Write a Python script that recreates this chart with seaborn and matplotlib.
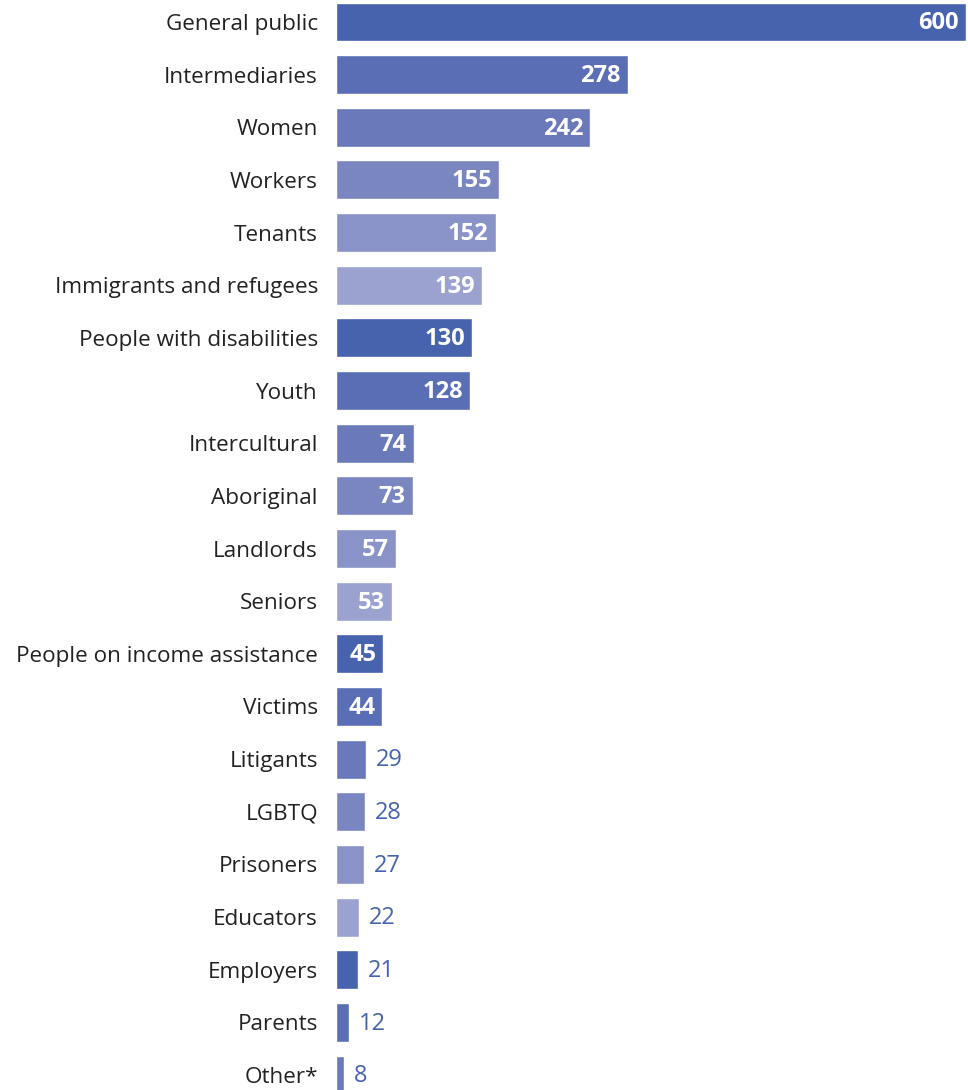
import matplotlib
matplotlib.use("Agg")
import matplotlib.pyplot as plt
import seaborn as sns
import pandas as pd

categories = [
    "General public", "Intermediaries", "Women", "Workers", "Tenants",
    "Immigrants and refugees", "People with disabilities", "Youth",
    "Intercultural", "Aboriginal", "Landlords", "Seniors",
    "People on income assistance", "Victims", "Litigants", "LGBTQ",
    "Prisoners", "Educators", "Employers", "Parents", "Other*",
]
counts = [600, 278, 242, 155, 152, 139, 130, 128, 74, 73, 57, 53,
          45, 44, 29, 28, 27, 22, 21, 12, 8]

# six blue shades, repeated down the list
shades = ["#4763AE", "#5A6EB5", "#6A79BA", "#7A86C0", "#8A93C8", "#9BA2D0"]
palette = [shades[i % len(shades)] for i in range(len(categories))]

df = pd.DataFrame({"category": categories, "count": counts})

sns.set_theme(style="white")
plt.rcParams["font.family"] = ["Open Sans", "DejaVu Sans"]

fig = plt.figure(figsize=(9.68, 10.90), dpi=100)
ax = fig.add_axes([336 / 968, 0, 632 / 968, 1])

sns.barplot(data=df, y="category", x="count", hue="category",
            palette=palette, legend=False, width=0.74, orient="h",
            saturation=1, ax=ax)

ax.set_xlim(0, 602)
ax.set_ylim(20.285, -0.418)
ax.set_xlabel("")
ax.set_ylabel("")
ax.set_xticks([])
sns.despine(ax=ax, left=True, bottom=True)
ax.tick_params(axis="y", length=0, pad=13, labelsize=16.2, labelcolor="#222222")

for i, v in enumerate(counts):
    if v >= 40:
        ax.annotate(str(v), (v, i), xytext=(-5, -1), textcoords="offset points",
                    ha="right", va="center", color="white",
                    fontsize=17, fontweight="bold")
    else:
        ax.annotate(str(v), (v, i), xytext=(7, -1), textcoords="offset points",
                    ha="left", va="center", color="#4763AE",
                    fontsize=17)

fig.savefig("out.png", dpi=100)
